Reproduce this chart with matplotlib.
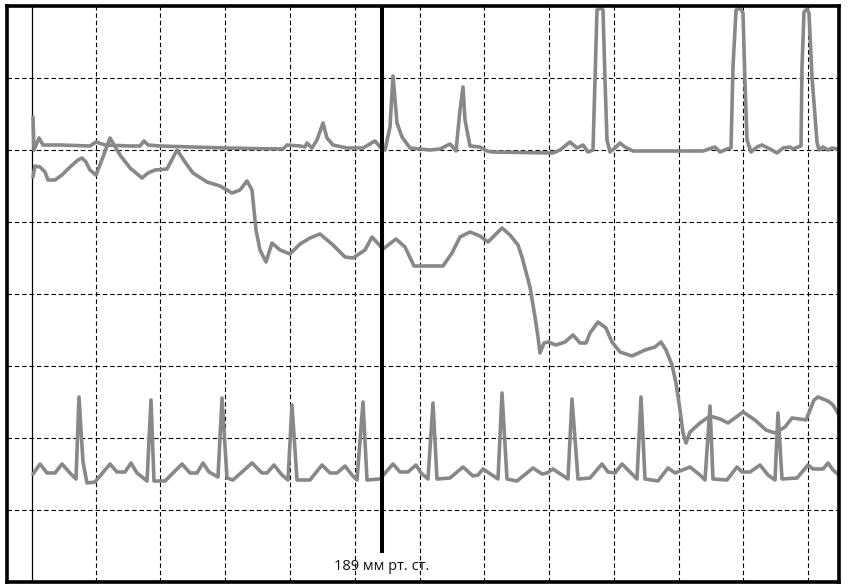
import matplotlib
matplotlib.use("Agg")
import matplotlib.pyplot as plt

# ---- data (x: time units, y: amplitude units) ----
top_x = [1, 2, 7, 11, 28, 58, 64, 73, 98, 108, 112, 116, 128, 193, 218, 251, 255, 268, 273, 275,
         280, 285, 291, 295, 301, 315, 331, 343, 349, 353, 358, 361, 365, 370, 378, 398, 408, 418,
         424, 428, 431, 433, 438, 448, 455, 460, 521, 528, 538, 545, 551, 556, 561, 563, 565, 569,
         571, 573, 575, 578, 583, 588, 593, 601, 671, 683, 688, 695, 699, 701, 704, 708, 711, 713,
         715, 719, 725, 730, 738, 745, 751, 758, 761, 766, 769, 770, 772, 775, 777, 780, 785, 787,
         791, 796, 800, 805]
top_y = [465, 432, 444, 437, 437, 436, 440, 437, 436, 436, 441, 437, 436, 434, 433.5, 433, 437, 436,
         435, 439, 434, 442, 459, 444, 437, 434, 434, 441, 434, 432, 455, 506, 459, 445, 434, 432,
         433, 438, 431, 472, 495, 462, 436, 435, 431, 430, 429, 432, 440, 434, 437, 430, 432, 502,
         572, 574, 572, 502, 442, 430, 434, 439, 435, 431, 431, 435, 430, 433, 434, 515, 572, 574,
         569, 499, 442, 430, 435, 437, 433, 429, 434, 435, 433, 435, 436, 515, 570, 573, 569, 505,
         440, 432, 435, 432, 434, 433]

mid_x = [1, 3, 8, 13, 16, 23, 30, 38, 46, 50, 54, 58, 64, 71, 78, 88, 98, 110, 116, 123, 135, 145,
         153, 161, 175, 188, 200, 208, 215, 220, 224, 228, 234, 240, 248, 258, 268, 278, 288, 301,
         313, 321, 333, 340, 351, 364, 373, 382, 411, 420, 428, 438, 448, 456, 460, 470, 478, 486,
         490, 498, 503, 506, 508, 512, 516, 524, 533, 541, 548, 554, 558, 566, 574, 580, 588, 600,
         613, 623, 629, 634, 640, 644, 648, 651, 654, 658, 668, 678, 688, 696, 711, 723, 734, 743,
         753, 760, 768, 774, 778, 782, 786, 796, 801, 807]
mid_y = [405, 416, 415, 410, 402, 402, 407, 415, 422, 424, 420, 412, 407, 425, 444, 427, 414, 404,
         409, 412, 413, 432, 420, 409, 400, 396, 389, 392, 401, 392, 352, 332, 320, 339, 332, 328,
         338, 344, 348, 337, 325, 324, 332, 345, 333, 343, 335, 316, 316, 329, 345, 350, 346, 340,
         344, 354, 347, 337, 325, 295, 265, 245, 229, 239, 240, 237, 240, 247, 239, 239, 249, 260,
         254, 240, 230, 226, 232, 235, 240, 232, 217, 199, 172, 149, 139, 150, 159, 166, 163, 159,
         170, 162, 152, 149, 155, 164, 163, 162, 172, 182, 185, 181, 177, 167]

ecg_x = [1, 8, 15, 23, 30, 38, 44, 47, 51, 55, 63, 78, 85, 93, 99, 105, 115, 119, 122, 133, 150, 158,
         165, 171, 177, 186, 190, 195, 201, 220, 230, 235, 242, 250, 256, 260, 265, 278, 290, 298,
         305, 313, 320, 325, 331, 335, 348, 361, 368, 376, 384, 389, 396, 401, 405, 418, 431, 441,
         446, 451, 466, 470, 475, 485, 501, 510, 515, 521, 536, 540, 546, 558, 570, 576, 583, 590,
         598, 605, 609, 613, 626, 636, 643, 658, 668, 673, 678, 681, 695, 705, 710, 718, 728, 736,
         743, 746, 750, 765, 776, 781, 791, 796, 801, 807]
ecg_y = [108, 118, 109, 109, 118, 109, 103, 185, 120, 99, 100, 118, 110, 110, 119, 109, 101, 182, 101,
         101, 118, 109, 109, 119, 110, 105, 184, 104, 102, 119, 109, 109, 117, 107, 102, 177, 102,
         102, 117, 109, 109, 116, 107, 102, 180, 102, 103, 118, 110, 110, 117, 109, 103, 179, 103,
         104, 115, 106, 107, 113, 103, 189, 103, 101, 114, 108, 109, 113, 103, 183, 103, 104, 118,
         110, 109, 118, 110, 103, 185, 103, 101, 114, 109, 115, 107, 102, 176, 103, 102, 115, 110,
         110, 117, 107, 102, 169, 103, 104, 117, 113, 113, 119, 112, 107]

marker_x = 350.5
marker_label = "189 мм рт. ст."
grid_x = [63.7 + 64.78 * k for k in range(12)]
grid_y = [72 * k for k in range(1, 8)]

# ---- figure ----
W, H = 849, 588
fig = plt.figure(figsize=(W / 100, H / 100), dpi=100)
ax = fig.add_axes([7 / W, 6 / H, 832 / W, 576 / H])
ax.set_xlim(-25, 807)
ax.set_ylim(0, 576)
ax.set_xticks([])
ax.set_yticks([])
for s in ax.spines.values():
    s.set_linewidth(2.6)
    s.set_color("black")
    s.set_zorder(6)

dash = (0, (4.0, 2.6))
for gx in grid_x:
    ax.axvline(gx, color="black", lw=0.8, linestyle=dash, zorder=1)
for gy in grid_y:
    ax.axhline(gy, color="black", lw=0.8, linestyle=dash, zorder=1)
ax.axvline(0, color="black", lw=0.9, zorder=1)

gray = "#888888"
for xs, ys in ((top_x, top_y), (mid_x, mid_y), (ecg_x, ecg_y)):
    ax.plot(xs, ys, color=gray, lw=2.6, solid_joinstyle="round", solid_capstyle="round", zorder=3)

ax.plot([marker_x, marker_x], [29, 576], color="black", lw=2.9, zorder=4, solid_capstyle="butt")
ax.text(marker_x - 1, 16, marker_label, ha="center", va="center", fontsize=10.5,
        family=["Open Sans", "DejaVu Sans"], color="#111111", zorder=5)

fig.savefig("out.png", dpi=100)
